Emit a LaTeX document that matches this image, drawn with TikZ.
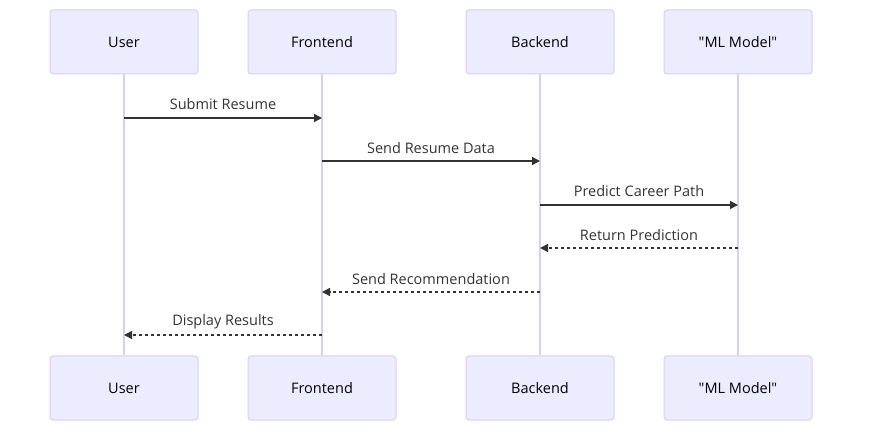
\documentclass[tikz,border=0pt]{standalone}
\usepackage{fontspec}
\setmainfont{Open Sans}[Ligatures=TeXOff]
\usetikzlibrary{arrows.meta}
\definecolor{actfill}{HTML}{ECECFF}
\definecolor{actborder}{HTML}{DACEF3}
\definecolor{msg}{HTML}{333333}
\tikzset{
  actor/.style={draw=actborder, fill=actfill, rounded corners=3pt, line width=1pt,
    minimum width=148pt, minimum height=64pt, inner sep=0pt, font=\fontsize{14.5}{17}\selectfont, text=black},
  lifeline/.style={draw=actborder, line width=1.5pt},
  msgline/.style={draw=msg, line width=1.5pt, -{Triangle[length=8pt,width=8pt]}},
  replyline/.style={msgline, dash pattern=on 3pt off 3pt},
  msglabel/.style={font=\fontsize{14.5}{17}\selectfont, text=msg, inner sep=0pt}
}
\begin{document}
\begin{tikzpicture}[x=1pt,y=-1pt]
\useasboundingbox (0,0) rectangle (870,435);
% top actors
\node[actor] (uT) at (124,42) {User};
\node[actor] (fT) at (322,42) {Frontend};
\node[actor] (bT) at (540,42) {Backend};
\node[actor] (mT) at (738,42) {"ML Model"};
% bottom actors
\node[actor] (uB) at (124,388) {User};
\node[actor] (fB) at (322,388) {Frontend};
\node[actor] (bB) at (540,388) {Backend};
\node[actor] (mB) at (738,388) {"ML Model"};
% lifelines
\draw[lifeline] (uT.south) -- (uB.north);
\draw[lifeline] (fT.south) -- (fB.north);
\draw[lifeline] (bT.south) -- (bB.north);
\draw[lifeline] (mT.south) -- (mB.north);
% message points
\coordinate (u1) at (124,118); \coordinate (f1) at (322,118);
\coordinate (f2) at (322,161); \coordinate (b2) at (540,161);
\coordinate (b3) at (540,205); \coordinate (m3) at (738,205);
\coordinate (m4) at (738,248); \coordinate (b4) at (540,248);
\coordinate (b5) at (540,292); \coordinate (f5) at (322,292);
\coordinate (f6) at (322,335); \coordinate (u6) at (124,335);
\draw[msgline] (u1) -- (f1);
\draw[msgline] (f2) -- (b2);
\draw[msgline] (b3) -- (m3);
\draw[replyline] (m4) -- (b4);
\draw[replyline] (b5) -- (f5);
\draw[replyline] (f6) -- (u6);
\node[msglabel] (l1) at (223,104) {Submit Resume};
\node[msglabel] (l2) at (431,148) {Send Resume Data};
\node[msglabel] (l3) at (639,191) {Predict Career Path};
\node[msglabel] (l4) at (639,235) {Return Prediction};
\node[msglabel] (l5) at (431,279) {Send Recommendation};
\node[msglabel] (l6) at (223,322) {Display Results};
\end{tikzpicture}
\end{document}
